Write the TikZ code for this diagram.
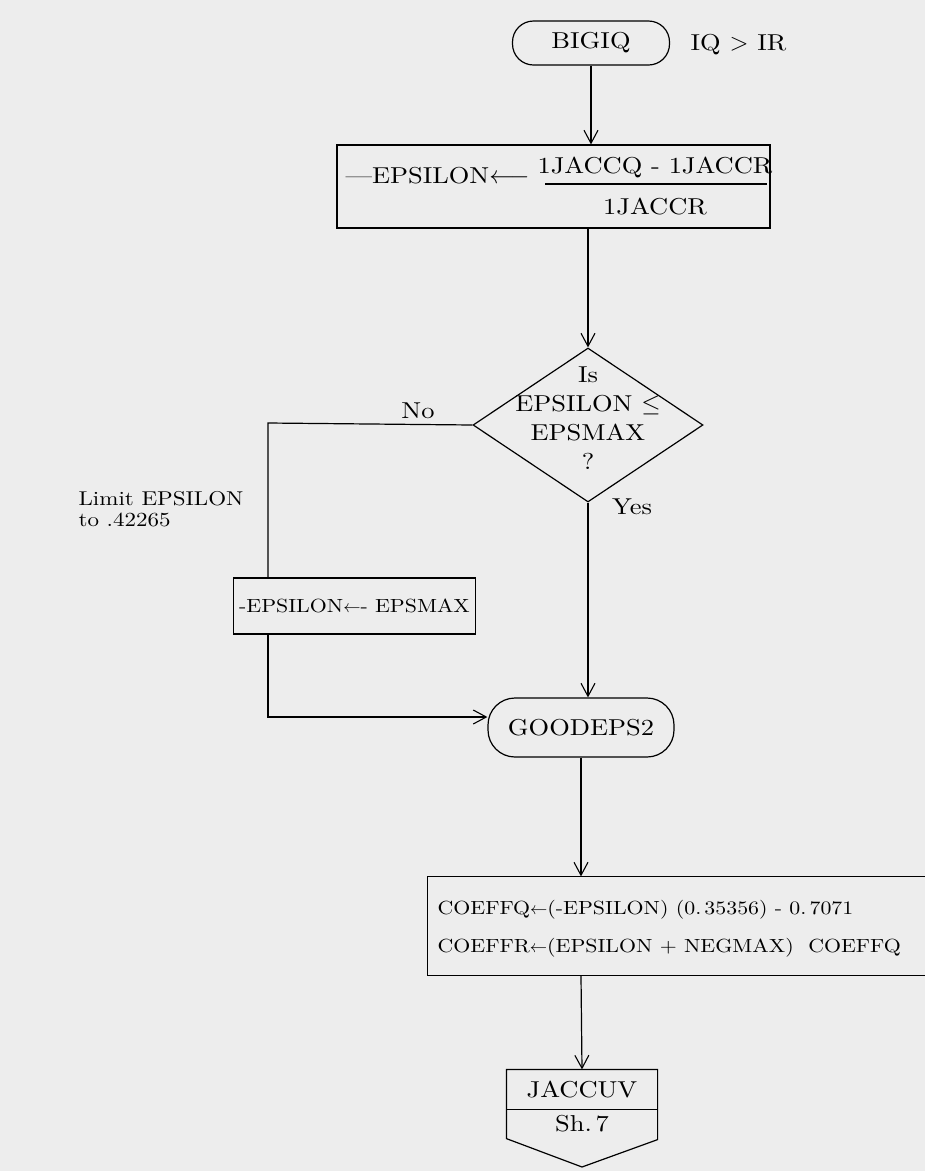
\documentclass[tikz,border=0pt]{standalone}
\usepackage{fontspec}
\setmainfont{lmroman10-regular}[Extension=.otf, FakeStretch=1.15]
\usetikzlibrary{arrows.meta,shapes.geometric,calc}
\definecolor{paper}{gray}{0.93}
\begin{document}
\begin{tikzpicture}[x=1pt, y=-1pt, line width=1.2pt,
  font=\fontsize{23}{27}\selectfont,
  flow/.style={-{Straight Barb[length=13pt,width=14pt,line width=1.1pt]}},
  term/.style={draw, inner sep=0pt},
  procbox/.style={draw, inner sep=0pt},
  blank/.style={inner sep=0pt},
  txt/.style={inner sep=0pt},
  small/.style={font=\fontsize{19}{24}\selectfont}]
\useasboundingbox (0,0) rectangle (925,1171);
\fill[paper] (0,0) rectangle (925,1171);

% entry terminal and condition
\node[term, rounded corners=21pt, minimum width=157pt, minimum height=44pt] (bigiq) at (591,43) {BIGIQ};
\node[txt, anchor=west] (cond) at (690,45) {IQ $>$ IR};

% compute EPSILON
\node[procbox, minimum width=433pt, minimum height=83pt] (eps) at (553.5,186.5) {};
\node[txt, anchor=west] (epsl) at (345,176) {---EPSILON$\longleftarrow$};
\node[txt] (num) at (655,167) {1JACCQ - 1JACCR};
\node[txt] (den) at (655,207) {1JACCR};
\draw (545,184) -- (767,184);

% decision
\node[diamond, draw, minimum width=230pt, minimum height=154pt, inner sep=0pt] (dec) at (588,425) {};
\node[txt, align=center, font=\fontsize{23}{29}\selectfont] (dectext) at (588,418) {Is\\EPSILON $\leq$\\EPSMAX\\?};
\node[txt] (no) at (418,411) {No};
\node[txt] (yes) at (632,507) {Yes};

% limiting note and box
\node[txt, anchor=west, align=left, font=\fontsize{20}{21}\selectfont] (note) at (78,509) {Limit EPSILON\\to .42265};
\node[procbox, small, minimum width=197pt, minimum height=56pt, inner xsep=6pt] (lim) at (354.5,606) {-EPSILON$\leftarrow$- EPSMAX};

% rejoin terminal
\node[term, rounded corners=27pt, minimum width=186pt, minimum height=59pt] (good) at (581,727.5) {GOODEPS2};

% coefficients (box runs off the right edge)
\node[blank, minimum width=497pt, minimum height=98pt] (coef) at (676.5,926) {};
\draw (coef.north east) -- (coef.north west) -- (coef.south west) -- (coef.south east);
\node[txt, anchor=west, small] (cq) at (437,910) {COEFFQ$\leftarrow$(-EPSILON) (0.\,35356) - 0.\,7071};
\node[txt, anchor=west, small] (cr) at (437,948) {COEFFR$\leftarrow$(EPSILON + NEGMAX)\ \ COEFFQ};

% off-page connector
\node[blank, minimum width=150pt, minimum height=39pt] (jac) at (582,1089.5) {JACCUV};
\node[txt] (sheet) at (582,1124) {Sh.\,7};
\draw (jac.south west) -- (jac.north west) -- (jac.north east) -- (jac.south east)
      -- ++(0,30) -- (582,1167) -- ($(jac.south west)+(0,29)$) -- cycle;
\draw (jac.south west) -- (jac.south east);

% connectors
\coordinate (nocorner) at (268,423);
\coordinate (joinc) at (268,717);
\draw[flow] (bigiq.south) -- (bigiq.south |- eps.north);
\draw[flow] (dec.north |- eps.south) -- (dec.north);
\draw (dec.west) -- (nocorner) -- (nocorner |- lim.north);
\draw[flow] (nocorner |- lim.south) -- (joinc) -- (joinc -| good.west);
\draw[flow] (dec.south) -- (dec.south |- good.north);
\draw[flow] (good.south) -- (good.south |- coef.north);
\draw[flow] (good.south |- coef.south) -- (jac.north);
\end{tikzpicture}
\end{document}
